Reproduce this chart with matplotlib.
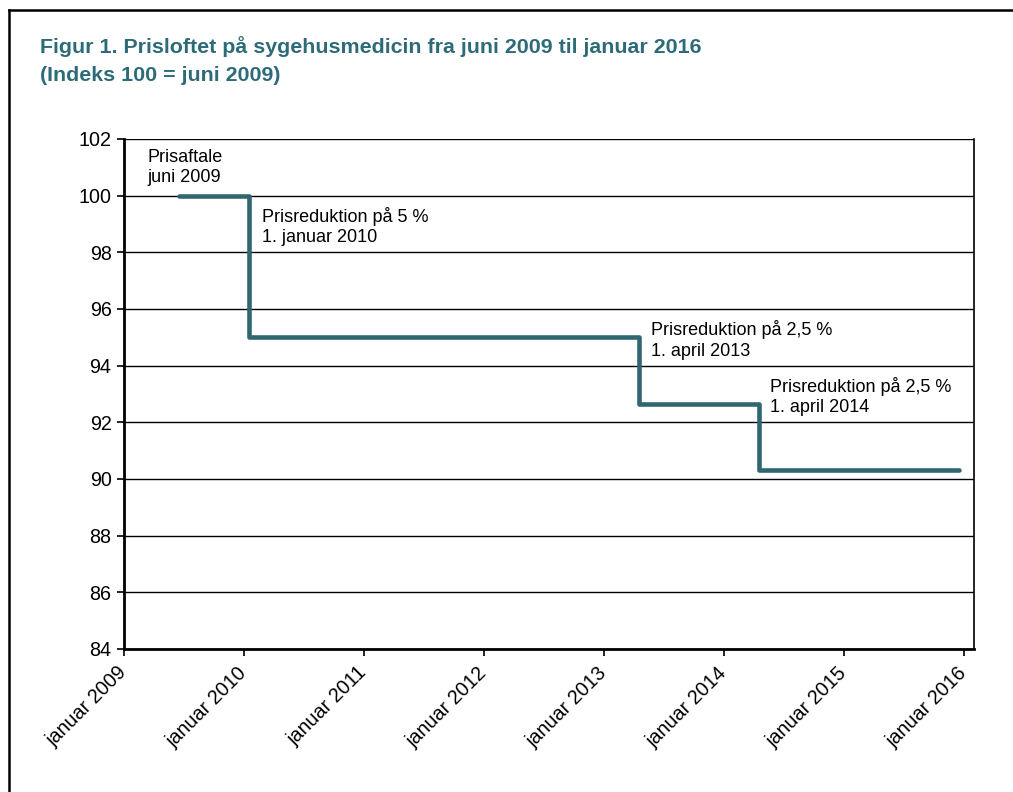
import matplotlib
matplotlib.use("Agg")
import matplotlib.pyplot as plt
from matplotlib.lines import Line2D

plt.rcParams['font.family'] = ['Liberation Sans', 'DejaVu Sans']

# step points (month of change, index value)
step_year = [2009, 2010, 2013, 2014, 2015]
step_month = [6, 1, 4, 4, 12]
step_value = [100.0, 95.0, 92.63, 90.31, 90.31]

tick_years = [2009, 2010, 2011, 2012, 2013, 2014, 2015, 2016]
tick_labels = ["januar %d" % y for y in tick_years]

notes = [
    ("Prisaftale\njuni 2009", 2009, 2.8, 101.65),
    ("Prisreduktion på 5 %\n1. januar 2010", 2010, 2.3, 99.6),
    ("Prisreduktion på 2,5 %\n1. april 2013", 2013, 5.2, 95.6),
    ("Prisreduktion på 2,5 %\n1. april 2014", 2014, 5.1, 93.6),
]

teal = "#2F6670"
title_col = "#2E6B78"

# month categories centred within the month
def mpos(y, m):
    return y + (m - 1) / 12 + 0.5 / 12

xs = [mpos(y, m) for y, m in zip(step_year, step_month)]

fig = plt.figure(figsize=(10.13, 7.92), dpi=100)
ax = fig.add_axes([124 / 1013, 1 - 649 / 792, (974 - 124) / 1013, (649 - 139) / 792])

ax.step(xs, step_value, where='post', color=teal, lw=3.3, solid_capstyle='round',
        solid_joinstyle='round', zorder=3)

ax.set_xlim(2009, 2016 + 1 / 12)
ax.set_ylim(84, 102)
ax.set_yticks(range(84, 103, 2))
ax.set_xticks(tick_years)
ax.set_xticklabels(tick_labels, rotation=45, ha='right', va='center', rotation_mode='anchor')
ax.tick_params(axis='x', labelsize=14.2, length=5, width=1.2, pad=10)
ax.tick_params(axis='y', labelsize=14.2, length=5, width=1.2, pad=4)
ax.yaxis.grid(True, color='black', lw=1.0)
ax.set_axisbelow(True)
for side in ['left', 'bottom']:
    ax.spines[side].set_linewidth(2.0)
ax.spines['right'].set_linewidth(1.2)
ax.spines['top'].set_visible(False)

for txt, yr, mo, yv in notes:
    ax.text(mpos(yr, mo), yv, txt, fontsize=13, va='top', ha='left', linespacing=1.25)

fig.text(40 / 1013, 1 - 36 / 792, "Figur 1. Prisloftet på sygehusmedicin fra juni 2009 til januar 2016\n(Indeks 100 = juni 2009)",
         fontsize=15.4, fontweight='bold', color=title_col, va='top', ha='left', linespacing=1.6)

# frame around the figure (left and top edges visible)
fig.add_artist(Line2D([9 / 1013, 9 / 1013], [0, 1 - 10 / 792], color='black', lw=1.8))
fig.add_artist(Line2D([9 / 1013, 1], [1 - 10 / 792, 1 - 10 / 792], color='black', lw=1.8))

fig.savefig("out.png", dpi=100)
